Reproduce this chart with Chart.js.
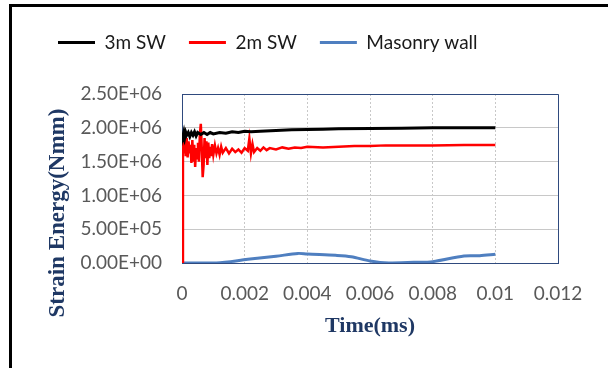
<!DOCTYPE html>
<html>
<head>
<meta charset="utf-8">
<script src="https://cdn.jsdelivr.net/npm/chart.js@4.4.1/dist/chart.umd.min.js"></script>
<style>
  html, body { margin: 0; padding: 0; background: #fff; }
  #frame { position: absolute; left: 9px; top: 4px; width: 700px; height: 500px;
           border-left: 3px solid #000; border-top: 3px solid #000; }
  #chart { position: absolute; left: 0; top: 0; }
</style>
</head>
<body>
<div id="frame"></div>
<canvas id="chart" width="608" height="368"></canvas>
<script>
// tick labels as printed on the axes
const xTickLabels = ['0', '0.002', '0.004', '0.006', '0.008', '0.01', '0.012'];
const yTickLabels = ['0.00E+00', '5.00E+05', '1.00E+06', '1.50E+06', '2.00E+06', '2.50E+06'];
const seriesNames = ['3m SW', '2m SW', 'Masonry wall'];

// 3m SW (black)
const time3m = [0, 0.00003, 0.00006, 0.00009, 0.00012, 0.00015, 0.0002, 0.00025, 0.0003, 0.00035,
  0.0004, 0.00045, 0.0005, 0.0006, 0.0007, 0.0008, 0.0009, 0.001, 0.0012, 0.0014,
  0.0016, 0.0018, 0.002, 0.0022, 0.0025, 0.003, 0.0035, 0.004, 0.0045, 0.005,
  0.006, 0.007, 0.008, 0.009, 0.01];
const strain3m = [1.92e6, 1.88e6, 1.94e6, 1.86e6, 1.93e6, 1.89e6, 1.93e6, 1.87e6, 1.93e6, 1.89e6,
  1.94e6, 1.88e6, 1.93e6, 1.90e6, 1.93e6, 1.90e6, 1.93e6, 1.91e6, 1.93e6, 1.92e6,
  1.94e6, 1.93e6, 1.95e6, 1.94e6, 1.95e6, 1.96e6, 1.97e6, 1.975e6, 1.98e6, 1.985e6,
  1.99e6, 1.995e6, 2.0e6, 2.0e6, 2.0e6];

// 2m SW (red)
const time2m = [0, 0.00003, 0.00006, 0.00009, 0.00012, 0.00015, 0.00018, 0.00021, 0.00024, 0.00027,
  0.0003, 0.00033, 0.00036, 0.00039, 0.00042, 0.00045, 0.00048, 0.00051, 0.00054, 0.00057,
  0.0006, 0.00063, 0.00066, 0.00069, 0.00072, 0.00075, 0.00078, 0.00081, 0.00084, 0.00087,
  0.0009, 0.00093, 0.00096, 0.001, 0.00105, 0.0011, 0.00115, 0.0012, 0.00125, 0.0013,
  0.0014, 0.0015, 0.0016, 0.0017, 0.0018, 0.0019, 0.002, 0.0021, 0.00215, 0.0022,
  0.00225, 0.0023, 0.0024, 0.0025, 0.0026, 0.0027, 0.0028, 0.003, 0.0032, 0.0034,
  0.0036, 0.0038, 0.004, 0.0045, 0.005, 0.0055, 0.006, 0.0065, 0.007, 0.008,
  0.009, 0.01];
const strain2m = [0, 1.90e6, 1.62e6, 1.96e6, 1.58e6, 1.85e6, 1.56e6, 1.80e6, 1.62e6, 1.75e6,
  1.48e6, 1.82e6, 1.50e6, 1.75e6, 1.42e6, 1.70e6, 1.55e6, 1.78e6, 1.50e6, 1.90e6,
  2.06e6, 1.70e6, 1.27e6, 1.45e6, 1.85e6, 1.55e6, 1.80e6, 1.45e6, 1.78e6, 1.55e6,
  1.72e6, 1.58e6, 1.76e6, 1.60e6, 1.74e6, 1.62e6, 1.70e6, 1.60e6, 1.72e6, 1.63e6,
  1.70e6, 1.62e6, 1.69e6, 1.64e6, 1.68e6, 1.63e6, 1.70e6, 1.66e6, 1.84e6, 1.62e6,
  1.76e6, 1.64e6, 1.70e6, 1.66e6, 1.71e6, 1.67e6, 1.70e6, 1.68e6, 1.71e6, 1.69e6,
  1.71e6, 1.70e6, 1.72e6, 1.71e6, 1.72e6, 1.73e6, 1.73e6, 1.74e6, 1.74e6, 1.74e6,
  1.745e6, 1.745e6];

// Masonry wall (blue)
const timeMasonry = [0, 0.0011, 0.0021, 0.003, 0.0037, 0.004, 0.0049, 0.0054, 0.006, 0.0066,
  0.0074, 0.008, 0.009, 0.0095, 0.01];
const strainMasonry = [0, 0, 0.054e6, 0.10e6, 0.142e6, 0.132e6, 0.113e6, 0.093e6, 0.03e6, 0,
  0.01e6, 0.02e6, 0.103e6, 0.107e6, 0.128e6];

const navy = '#1F3864';
const tickGray = '#595959';
const plotBorder = '#2F4A7E';

function toPoints(xs, ys) {
  return xs.map((x, i) => ({ x: x, y: ys[i] }));
}

// frame lines on top/right of the plot area and the rotated y title
const extrasPlugin = {
  id: 'extras',
  beforeInit(chart) {
    const fit = chart.legend.fit;
    chart.legend.fit = function () {
      fit.bind(chart.legend)();
      this.height += 32;
    };
  },
  afterDraw(chart) {
    const { ctx, chartArea } = chart;
    ctx.save();
    ctx.strokeStyle = plotBorder;
    ctx.lineWidth = 1;
    ctx.beginPath();
    ctx.moveTo(chartArea.left, chartArea.top + 0.5);
    ctx.lineTo(chartArea.right + 0.5, chartArea.top + 0.5);
    ctx.lineTo(chartArea.right + 0.5, chartArea.bottom);
    ctx.stroke();

    ctx.translate(58, 213);
    ctx.rotate(-Math.PI / 2);
    ctx.fillStyle = navy;
    ctx.font = 'bold 23px "Liberation Serif"';
    ctx.textAlign = 'center';
    ctx.textBaseline = 'middle';
    ctx.fillText('Strain Energy(Nmm)', 0, 0);
    ctx.restore();
  }
};

new Chart(document.getElementById('chart'), {
  type: 'line',
  data: {
    datasets: [
      {
        label: seriesNames[0],
        data: toPoints(time3m, strain3m),
        borderColor: '#000000',
        backgroundColor: '#000000',
        borderWidth: 3,
        pointRadius: 0,
        tension: 0
      },
      {
        label: seriesNames[1],
        data: toPoints(time2m, strain2m),
        borderColor: '#FF0000',
        backgroundColor: '#FF0000',
        borderWidth: 2.5,
        pointRadius: 0,
        tension: 0
      },
      {
        label: seriesNames[2],
        data: toPoints(timeMasonry, strainMasonry),
        borderColor: '#4F7FC0',
        backgroundColor: '#4F7FC0',
        borderWidth: 3,
        pointRadius: 0,
        tension: 0.3
      }
    ]
  },
  options: {
    responsive: false,
    animation: false,
    layout: { padding: { left: 35, top: 10, right: 50, bottom: 0 } },
    plugins: {
      legend: {
        position: 'top',
        align: 'start',
        labels: {
          boxWidth: 37,
          boxHeight: 3,
          padding: 23,
          color: '#1a1a1a',
          font: { family: 'Lato', size: 19 },
          generateLabels(chart) {
            const items = Chart.defaults.plugins.legend.labels.generateLabels(chart);
            items.forEach(item => { item.lineWidth = 0; });
            return items;
          }
        }
      },
      tooltip: { enabled: false }
    },
    scales: {
      x: {
        type: 'linear',
        min: 0,
        max: 0.012,
        afterFit(scale) { scale.height = 105; },
        ticks: {
          stepSize: 0.002,
          padding: 19,
          color: tickGray,
          font: { family: 'Lato', size: 19 },
          callback: (v, i) => xTickLabels[i]
        },
        grid: { color: '#C8C8C8', drawTicks: false },
        border: { color: plotBorder, dash: [2, 2], width: 1 },
        title: {
          display: true,
          text: 'Time(ms)',
          color: navy,
          font: { family: 'Liberation Serif', size: 22, weight: 'bold' },
          padding: { top: 0, bottom: 28 }
        }
      },
      y: {
        min: 0,
        max: 2500000,
        afterFit(scale) { scale.width = 147; },
        ticks: {
          stepSize: 500000,
          padding: 20,
          color: tickGray,
          font: { family: 'Lato', size: 19 },
          callback: (v, i) => yTickLabels[i]
        },
        grid: { color: '#C8C8C8', drawTicks: false },
        border: { color: plotBorder, width: 1 }
      }
    }
  },
  plugins: [extrasPlugin]
});
</script>
</body>
</html>
